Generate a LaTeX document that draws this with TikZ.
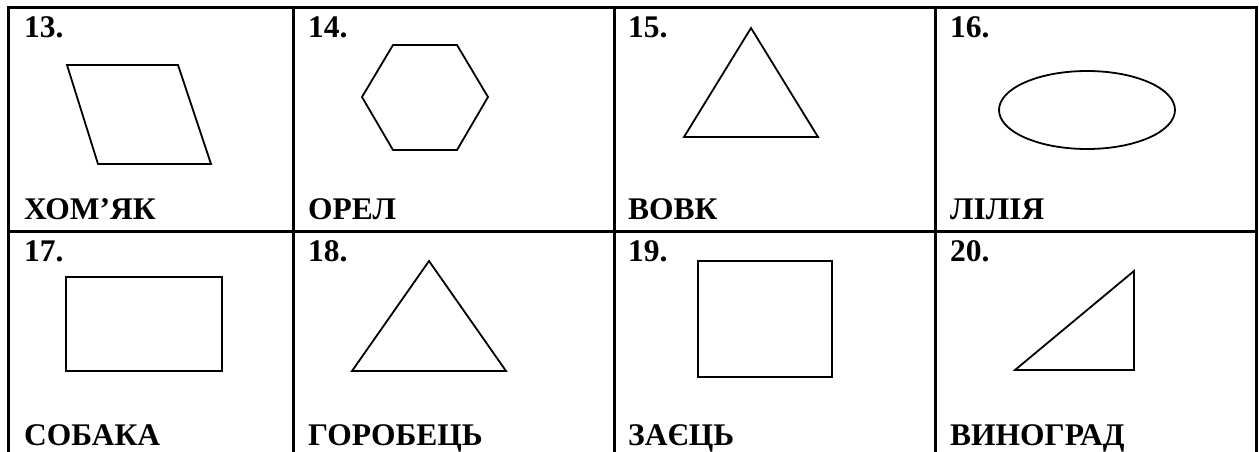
\documentclass[tikz,border=0pt]{standalone}
\usepackage{fontspec}
\setmainfont{Liberation Serif}
\begin{document}
\begin{tikzpicture}[x=1pt,y=-1pt,
  grid/.style={line width=3pt},
  fig/.style={line width=1.8pt,line join=miter},
  lbl/.style={font=\bfseries\fontsize{31.5}{31.5}\selectfont,anchor=base west,inner sep=0pt}]
\useasboundingbox (0,0) rectangle (1259,452);
% grid
\draw[grid] (8,452) -- (8,8) -- (1256,8) -- (1256,452);
\draw[grid] (8,231) -- (1256,231);
\draw[grid] (293,8) -- (293,452);
\draw[grid] (614.5,8) -- (614.5,452);
\draw[grid] (935,8) -- (935,452);
% row 1
\node[lbl] (n13) at (24,38) {13.};
\node[lbl] (n14) at (308,38) {14.};
\node[lbl] (n15) at (628,38) {15.};
\node[lbl] (n16) at (950,38) {16.};
\node[lbl] (w13) at (24,219) {ХОМ’ЯК};
\node[lbl] (w14) at (308,219) {ОРЕЛ};
\node[lbl] (w15) at (628,219) {ВОВК};
\node[lbl] (w16) at (950,219) {ЛІЛІЯ};
\draw[fig] (67,65) -- (178,65) -- (211,164) -- (98,164) -- cycle;
\draw[fig] (362,97) -- (393,45) -- (457,45) -- (488,97) -- (457,150) -- (393,150) -- cycle;
\draw[fig] (751,28) -- (818,137) -- (684,137) -- cycle;
\draw[fig] (1087,110) ellipse [x radius=88, y radius=39];
% row 2
\node[lbl] (n17) at (24,261) {17.};
\node[lbl] (n18) at (308,261) {18.};
\node[lbl] (n19) at (628,261) {19.};
\node[lbl] (n20) at (950,261) {20.};
\node[lbl] (w17) at (24,445) {СОБАКА};
\node[lbl] (w18) at (308,445) {ГОРОБЕЦЬ};
\node[lbl] (w19) at (628,445) {ЗАЄЦЬ};
\node[lbl] (w20) at (950,445) {ВИНОГРАД};
\draw[fig] (66,277) rectangle (222,371);
\draw[fig] (429,261) -- (506,371) -- (352,371) -- cycle;
\draw[fig] (698,261) rectangle (832,377);
\draw[fig] (1015,370) -- (1134,370) -- (1134,271) -- cycle;
\end{tikzpicture}
\end{document}
